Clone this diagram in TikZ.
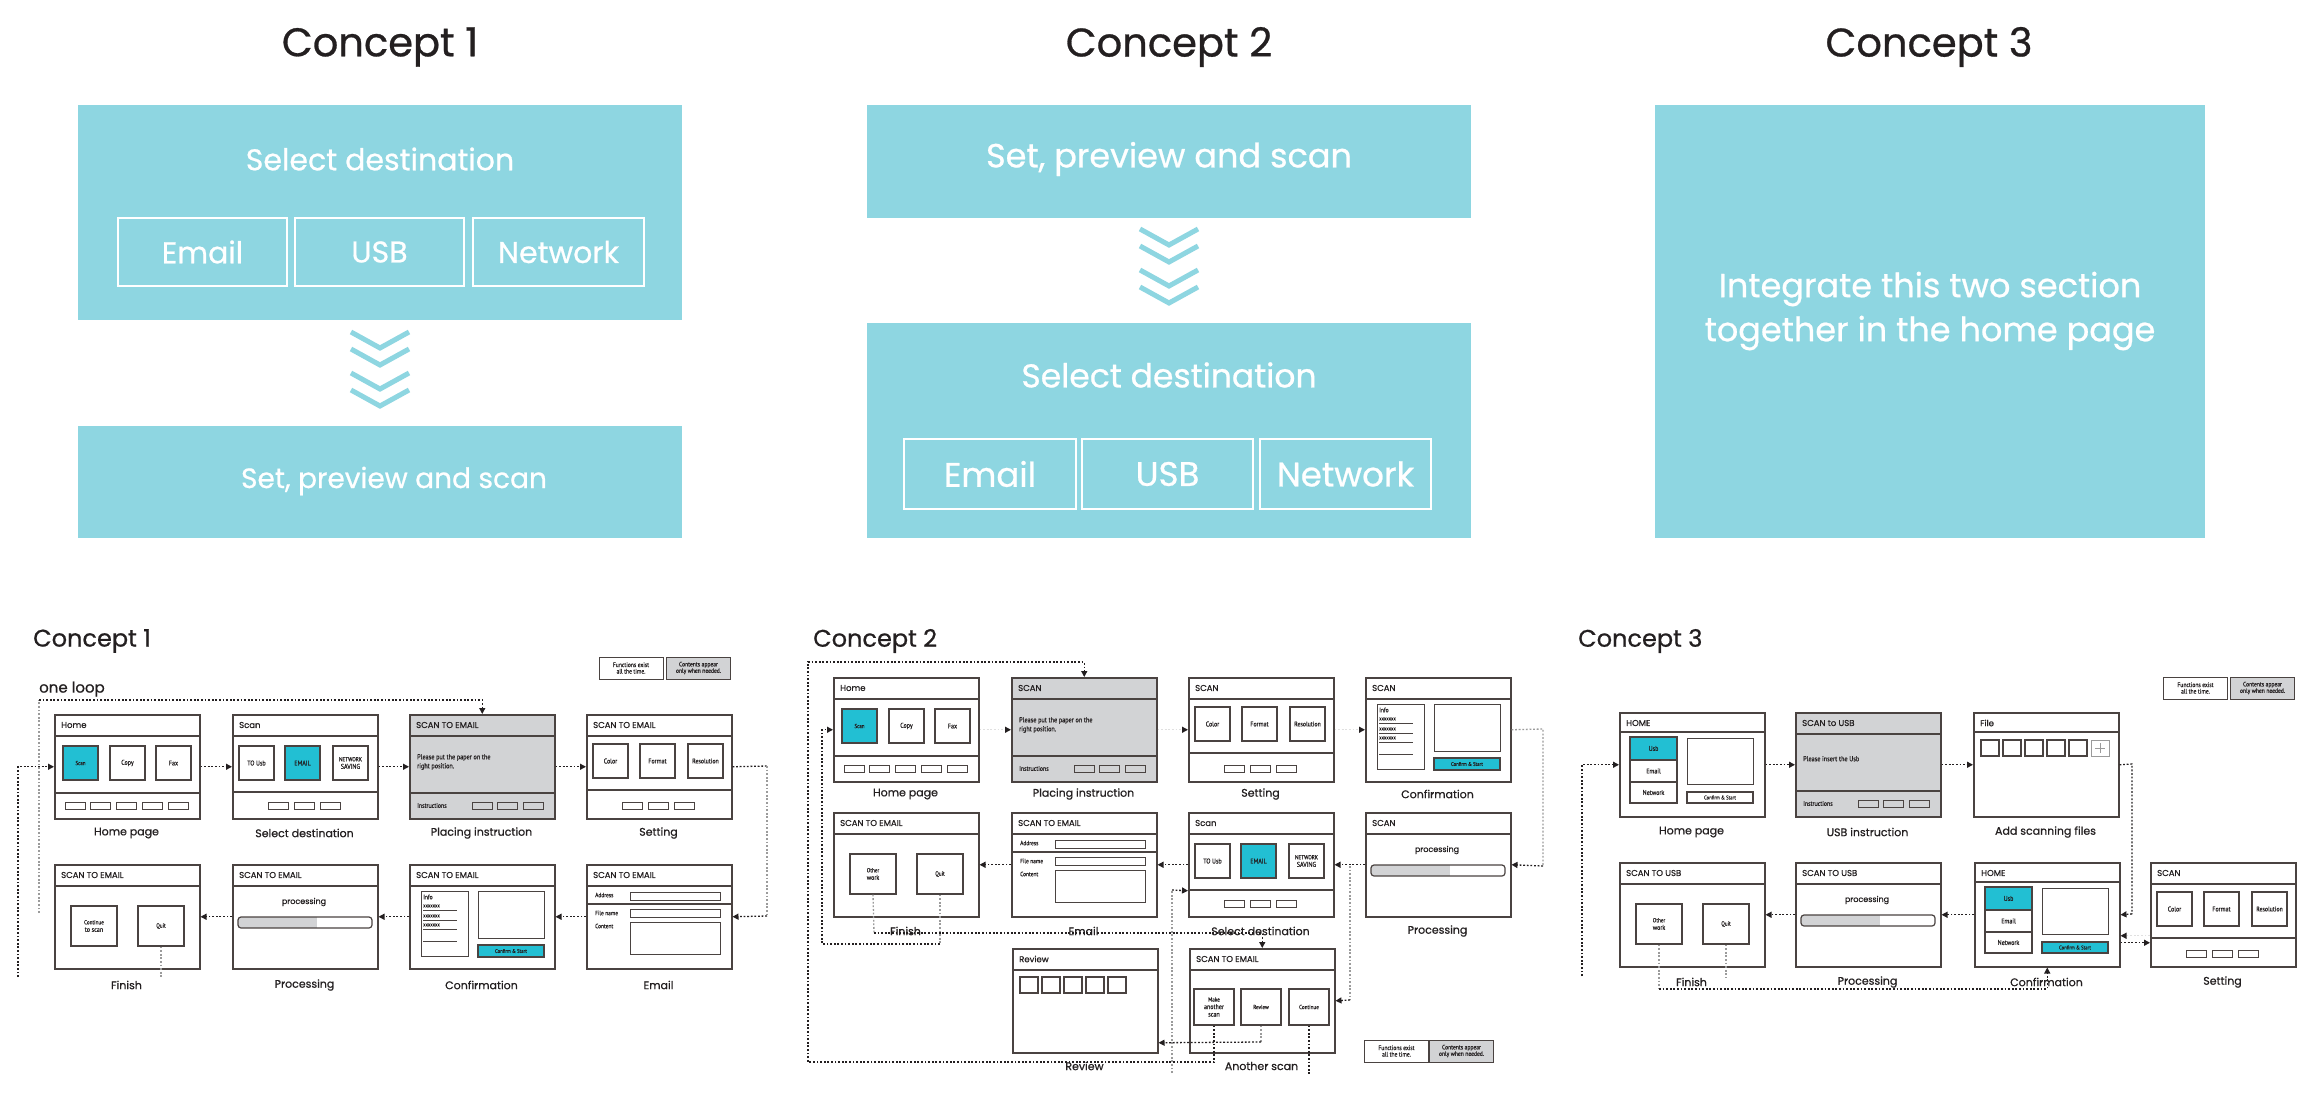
\documentclass[tikz,border=0pt]{standalone}
\usepackage{fontspec}
\setmainfont{Poppins}[FakeBold=0.7]
\newfontfamily\wf[FakeStretch=0.86,FakeBold=0.4]{PT Sans}
\usetikzlibrary{arrows.meta}
\definecolor{topblue}{HTML}{8ED6E1}
\definecolor{cyanb}{HTML}{22BFD3}
\definecolor{scrgray}{HTML}{D2D3D5}
\definecolor{frame}{HTML}{4A4341}
\definecolor{ink}{HTML}{231F20}
\definecolor{lgray}{HTML}{9B9B9B}

\tikzset{
  screen/.style={draw=frame,line width=1.5,fill=white,minimum width=145,minimum height=104,inner sep=0,anchor=north west},
  div/.style={draw=frame,line width=1.2},
  btnbox/.style={draw=frame,line width=1.2,inner sep=0,align=center,text=ink,font=\wf\fontsize{7}{7.5}\selectfont},
  sm/.style={draw=frame,line width=0.9},
  hd/.style={anchor=west,inner sep=0,text=ink,font=\fontsize{8.5}{9}\selectfont},
  wtxt/.style={anchor=west,inner sep=0,text=ink,font=\wf\fontsize{7}{8}\selectfont,align=left},
  lab/.style={inner sep=0,text=ink,font=\fontsize{11}{12}\selectfont},
  big/.style={fill=topblue,inner sep=0,anchor=north west},
  bigtxt/.style={inner sep=0,text=white,align=center,font=\fontsize{#1}{44}\selectfont},
  sub/.style={draw=white,line width=1.6,inner sep=0,text=white,font=\fontsize{#1}{36}\selectfont},
  chev/.style={draw=topblue,line width=5,line cap=butt,line join=miter},
  title/.style={inner sep=0,text=ink,font=\fontsize{40}{44}\selectfont},
  subtitle/.style={inner sep=0,anchor=west,text=ink,font=\fontsize{24}{26}\selectfont},
  leg/.style={draw=frame,line width=1,fill=white,minimum width=64,minimum height=22,inner sep=0,align=center,text=ink,font=\wf\fontsize{6.5}{6.5}\selectfont},
  dots/.style={line width=1.3,dash pattern=on 1.8pt off 1.8pt},
  line/.style={dots,draw=ink},
  gline/.style={dots,draw=lgray},
  conn/.style={line,-{Triangle[length=6pt,width=6pt]}},
  faint/.style={dots,draw=black!12,-{Triangle[length=6pt,width=6pt,color=ink]}},
}

% a button (name, x1, y1, x2, y2, fill, text)
\newcommand\wbtn[7]{\node[btnbox,fill=#6,minimum width={(#4)-(#2)},minimum height={(#5)-(#3)}] (#1) at ({((#2)+(#4))/2},{((#3)+(#5))/2}) {#7};}

% home screen with Scan / Copy / Fax
\newcommand\mkHome[3]{\begin{scope}[shift={(#2,#3)}]
  \node[screen] (#1) at (0,0) {};
  \node[hd] at (7,11) {Home};
  \draw[div] (0,22)--(145,22) (0,79)--(145,79);
  \wbtn{#1s}{9}{32}{44}{66}{cyanb}{\fontsize{5.8}{6}\selectfont Scan}
  \wbtn{#1c}{56}{32}{91}{66}{white}{Copy}
  \wbtn{#1f}{102}{32}{137}{66}{white}{Fax}
  \foreach \i in {0,...,4}{\draw[sm] ({11+25.75*\i},88) rectangle ++(20,7);}
\end{scope}}

% destination choice
\newcommand\mkDest[3]{\begin{scope}[shift={(#2,#3)}]
  \node[screen] (#1) at (0,0) {};
  \node[hd] at (7,11) {Scan};
  \draw[div] (0,22)--(145,22) (0,78)--(145,78);
  \wbtn{#1u}{7}{32}{42}{66}{white}{TO Usb}
  \wbtn{#1e}{53}{32}{88}{66}{cyanb}{EMAIL}
  \wbtn{#1n}{101}{32}{136}{66}{white}{\fontsize{6}{5.7}\selectfont NETWORK\\SAVING}
  \foreach \i in {0,1,2}{\draw[sm] ({36+26*\i},88) rectangle ++(20,7);}
\end{scope}}

% instruction screen (grey)
\newcommand\mkPlace[5]{\begin{scope}[shift={(#2,#3)}]
  \node[screen,fill=scrgray] (#1) at (0,0) {};
  \node[hd] at (7,11) {#4};
  \draw[div] (0,22)--(145,22) (0,79)--(145,79);
  \node[wtxt,anchor=north west,font=\wf\fontsize{7.2}{9}\selectfont] at (8,40) {#5};
  \node[wtxt,font=\wf\fontsize{6.8}{7}\selectfont] at (8,91.5) {Instructions};
  \foreach \i in {0,1,2}{\draw[sm] ({63+25.5*\i},88) rectangle ++(20,7);}
\end{scope}}

% settings
\newcommand\mkSet[4]{\begin{scope}[shift={(#2,#3)}]
  \node[screen] (#1) at (0,0) {};
  \node[hd] at (7,11) {#4};
  \draw[div] (0,22)--(145,22) (0,76)--(145,76);
  \wbtn{#1c}{7}{30}{42}{64}{white}{Color}
  \wbtn{#1f}{54}{30}{89}{64}{white}{Format}
  \wbtn{#1r}{102}{30}{137}{64}{white}{\fontsize{6.8}{7}\selectfont Resolution}
  \foreach \i in {0,1,2}{\draw[sm] ({36+26*\i},88) rectangle ++(20,7);}
\end{scope}}

% confirmation
\newcommand\mkConf[4]{\begin{scope}[shift={(#2,#3)}]
  \node[screen] (#1) at (0,0) {};
  \node[hd] at (7,11) {#4};
  \draw[div] (0,22)--(145,22);
  \draw[sm] (12,27) rectangle (59,92);
  \node[wtxt,font=\wf\fontsize{6.5}{7}\selectfont] at (14,33) {Info};
  \foreach \yy in {42,52,61}{\node[wtxt,font=\wf\fontsize{5.5}{6}\selectfont] at (14,\yy) {xxxxxxx}; \draw[sm] (14,\yy+4) -- (48,\yy+4);}
  \draw[sm] (14,77) -- (48,77);
  \draw[sm] (69,27) rectangle (135,74);
  \wbtn{#1b}{69}{81}{135}{93}{cyanb}{\fontsize{5.5}{6}\selectfont Confirm \& Start}
\end{scope}}

% e-mail form
\newcommand\mkMail[3]{\begin{scope}[shift={(#2,#3)}]
  \node[screen] (#1) at (0,0) {};
  \node[hd] at (7,11) {SCAN TO EMAIL};
  \draw[div] (0,22)--(145,22) (0,40)--(145,40);
  \node[wtxt,font=\wf\fontsize{6.3}{7}\selectfont] at (9,31) {Address};
  \draw[sm] (44,28) rectangle (134,36);
  \node[wtxt,font=\wf\fontsize{6.3}{7}\selectfont] at (9,49) {File name};
  \draw[sm] (44,45) rectangle (134,53);
  \node[wtxt,font=\wf\fontsize{6.3}{7}\selectfont] at (9,62) {Content};
  \draw[sm] (44,58) rectangle (134,90);
\end{scope}}

% finish
\newcommand\mkFin[5]{\begin{scope}[shift={(#2,#3)}]
  \node[screen] (#1) at (0,0) {};
  \node[hd] at (7,11) {#4};
  \draw[div] (0,22)--(145,22);
  \wbtn{#1a}{17}{42}{63}{82}{white}{\fontsize{6}{6.3}\selectfont #5}
  \wbtn{#1q}{84}{42}{130}{82}{white}{\fontsize{6}{6.3}\selectfont Quit}
\end{scope}}

% processing
\newcommand\mkProc[4]{\begin{scope}[shift={(#2,#3)}]
  \node[screen] (#1) at (0,0) {};
  \node[hd] at (7,11) {#4};
  \draw[div] (0,22)--(145,22);
  \node[inner sep=0,text=ink,font=\fontsize{8}{9}\selectfont] at (72,38) {processing};
  \begin{scope}\clip[rounded corners=3] (6,53) rectangle (140,64); \fill[scrgray] (6,53) rectangle (85,64);\end{scope}
  \draw[div,rounded corners=3] (6,53) rectangle (140,64);
\end{scope}}

% home with destination list
\newcommand\mkList[4]{\begin{scope}[shift={(#2,#3)}]
  \node[screen] (#1) at (0,0) {};
  \node[hd] at (7,11) {HOME};
  \draw[div] (0,20)--(145,20);
  \wbtn{#1u}{11}{25}{58}{48}{cyanb}{Usb}
  \wbtn{#1e}{11}{48}{58}{70}{white}{Email}
  \wbtn{#1n}{11}{70}{58}{91}{white}{Network}
  \draw[sm] (68,26) rectangle (134,72);
  \wbtn{#1b}{68}{80}{134}{91}{#4}{\fontsize{5.5}{6}\selectfont Confirm \& Start}
\end{scope}}

% file list
\newcommand\mkFile[3]{\begin{scope}[shift={(#2,#3)}]
  \node[screen] (#1) at (0,0) {};
  \node[hd] at (7,11) {File};
  \draw[div] (0,20)--(145,20);
  \foreach \i in {0,...,4}{\draw[div] ({8+22*\i},28) rectangle ++(18,16);}
  \draw[draw=lgray,line width=1] (118,28) rectangle (136,44);
  \draw[lgray,line width=0.8] (122,36)--(132,36) (127,31)--(127,41);
\end{scope}}

% review
\newcommand\mkReview[3]{\begin{scope}[shift={(#2,#3)}]
  \node[screen] (#1) at (0,0) {};
  \node[hd] at (7,11) {Review};
  \draw[div] (0,22)--(145,22);
  \foreach \i in {0,...,4}{\draw[div] ({8+22*\i},29) rectangle ++(18,16);}
\end{scope}}

% another scan
\newcommand\mkAgain[3]{\begin{scope}[shift={(#2,#3)}]
  \node[screen] (#1) at (0,0) {};
  \node[hd] at (7,11) {SCAN TO EMAIL};
  \draw[div] (0,22)--(145,22);
  \wbtn{#1a}{5}{41}{45}{77}{white}{\fontsize{6}{6.5}\selectfont Make\\another\\scan}
  \wbtn{#1r}{52}{41}{92}{77}{white}{\fontsize{6}{6.3}\selectfont Review}
  \wbtn{#1c}{100}{41}{140}{77}{white}{\fontsize{6}{6.3}\selectfont Continue}
\end{scope}}

\begin{document}
\begin{tikzpicture}[x=1pt,y=-1pt]
\useasboundingbox (0,0) rectangle (2311,1095);
\fill[white] (0,0) rectangle (2311,1095);

% ---------------- overview blocks ----------------
\node[title] (h1) at (380,47) {Concept 1};
\node[title] (h2) at (1169,47) {Concept 2};
\node[title] (h3) at (1929,47) {Concept 3};

\node[big,minimum width=604,minimum height=215] (t1a) at (78,105) {};
\node[bigtxt=30] (t1at) at (380,159) {Select destination};
\node[sub=30,minimum width=169,minimum height=68] (t1e) at (202.5,252) {Email};
\node[sub=30,minimum width=169,minimum height=68] (t1u) at (379.5,252) {USB};
\node[sub=30,minimum width=171,minimum height=68] (t1n) at (558.5,252) {Network};
\foreach \d in {0,17,41,58}{\draw[chev] (351,332+\d) -- (380,348+\d) -- (409,332+\d);}
\node[big,minimum width=604,minimum height=112] (t1b) at (78,426) {};
\node[bigtxt=28] (t1bt) at (394,481) {Set, preview and scan};

\node[big,minimum width=604,minimum height=113] (t2a) at (867,105) {};
\node[bigtxt=33.5] (t2at) at (1169,159) {Set, preview and scan};
\foreach \d in {0,17,41,58}{\draw[chev] (1140,229+\d) -- (1169,245+\d) -- (1198,229+\d);}
\node[big,minimum width=604,minimum height=215] (t2b) at (867,323) {};
\node[bigtxt=33] (t2bt) at (1169,375) {Select destination};
\node[sub=34,minimum width=172,minimum height=70] (t2e) at (990,474) {Email};
\node[sub=34,minimum width=171,minimum height=70] (t2u) at (1167.5,474) {USB};
\node[sub=34,minimum width=171,minimum height=70] (t2n) at (1345.5,474) {Network};

\node[big,minimum width=550,minimum height=433] (t3) at (1655,105) {};
\node[bigtxt=33.5] (t3t) at (1930,311) {Integrate this two section\\together in the home page};

% ---------------- concept 1 flow ----------------
\node[subtitle] (s1) at (33,641) {Concept 1};
\node[inner sep=0,anchor=west,text=ink,font=\fontsize{15}{16}\selectfont] (loop1) at (39,689) {one loop};
\node[leg] (lg1a) at (631,668) {Functions exist\\all the time.};
\node[leg,fill=scrgray] (lg1b) at (698.5,668) {Contents appear\\only when needed.};

\mkHome{c1home}{54}{714}
\mkDest{c1dest}{232}{714}
\mkPlace{c1place}{409}{714}{SCAN TO EMAIL}{Please put the paper on the\\right position.}
\mkSet{c1set}{586}{714}{SCAN TO EMAIL}
\mkFin{c1fin}{54}{864}{SCAN TO EMAIL}{Continue\\to scan}
\mkProc{c1proc}{232}{864}{SCAN TO EMAIL}
\mkConf{c1conf}{409}{864}{SCAN TO EMAIL}
\mkMail{c1mail}{586}{864}

\node[lab] (l1a) at (126.5,833) {Home page};
\node[lab] (l1b) at (304.5,833) {Select destination};
\node[lab] (l1c) at (481.5,833) {Placing instruction};
\node[lab] (l1d) at (658.5,833) {Setting};
\node[lab] (l1e) at (126.5,985) {Finish};
\node[lab] (l1f) at (304.5,985) {Processing};
\node[lab] (l1g) at (481.5,985) {Confirmation};
\node[lab] (l1h) at (658.5,985) {Email};

\coordinate (c1in) at (18,977);
\coordinate (c1lpA) at (39,913);
\coordinate (c1lpB) at (39,700);
\coordinate (c1rA) at (767,766);
\coordinate (c1rB) at (767,916);
\draw[conn] (c1in) |- (c1home.west);
\draw[gline] (c1lpA) -- (c1lpB);
\draw[conn] (c1lpB) -| (c1place.north);
\draw[conn] (c1home.east) -- (c1dest.west);
\draw[conn] (c1dest.east) -- (c1place.west);
\draw[conn] (c1place.east) -- (c1set.west);
\draw[line] (c1set.east) -- (c1rA);
\draw[gline] (c1rA) -- (c1rB);
\draw[conn] (c1rB) -- (c1mail.east);
\draw[conn] (c1mail.west) -- (c1conf.east);
\draw[conn] (c1conf.west) -- (c1proc.east);
\draw[conn] (c1proc.west) -- (c1fin.east);
\draw[gline] (c1finq.south) -- ++(0,32);

% ---------------- concept 2 flow ----------------
\node[subtitle] (s2) at (813,641) {Concept 2};
\node[leg] (lg2a) at (1396.5,1051) {Functions exist\\all the time.};
\node[leg,fill=scrgray] (lg2b) at (1461.5,1051) {Contents appear\\only when needed.};

\mkHome{c2home}{833}{677}
\mkPlace{c2place}{1011}{677}{SCAN}{Please put the paper on the\\right position.}
\mkSet{c2set}{1188}{677}{SCAN}
\mkConf{c2conf}{1365}{677}{SCAN}
\mkFin{c2fin}{833}{812}{SCAN TO EMAIL}{Other\\work}
\mkMail{c2mail}{1011}{812}
\mkDest{c2dest}{1188}{812}
\mkProc{c2proc}{1365}{812}{SCAN}
\mkReview{c2rev}{1012}{948}
\mkAgain{c2again}{1189}{948}

\node[lab] (l2a) at (905.5,794) {Home page};
\node[lab] (l2b) at (1083.5,794) {Placing instruction};
\node[lab] (l2c) at (1260.5,794) {Setting};
\node[lab] (l2d) at (1437.5,794) {Confirmation};
\node[lab] (l2e) at (905.5,931) {Finish};
\node[lab] (l2f) at (1083.5,931) {Email};
\node[lab] (l2g) at (1260.5,931) {Select destination};
\node[lab] (l2h) at (1437.5,931) {Processing};
\node[lab] (l2i) at (1084.5,1066) {Review};
\node[lab] (l2j) at (1261.5,1066) {Another scan};

\coordinate (c2lpA) at (808,1062);
\coordinate (c2lpB) at (808,662);
\coordinate (c2hin) at (822,944);
\coordinate (c2rA) at (1543,729);
\coordinate (c2rB) at (1543,866);
\coordinate (c2br) at (1350,866);
\coordinate (c2brB) at (1350,1000);
\coordinate (c2owA) at (874,933);
\coordinate (c2ctA) at (1172,1073);
\coordinate (c2ctB) at (1172,890);
\coordinate (c2rvA) at (1261,1042);
\draw[conn] (c2againa.south) |- (c2lpA) -- (c2lpB) -| (c2place.north);
\draw[gline] (c2finq.south) -- (c2finq.south |- c2hin);
\draw[conn] (c2finq.south |- c2hin) -- (c2hin) |- (c2home.west);
\draw[faint] (c2home.east) -- (c2place.west);
\draw[faint] (c2place.east) -- (c2set.west);
\draw[faint] (c2set.east) -- (c2conf.west);
\draw[gline] (c2conf.east) -- (c2rA) -- (c2rB);
\draw[conn] (c2rB) -- (c2proc.east);
\draw[conn] (c2proc.west) -- (c2dest.east);
\draw[gline] (c2br) -- (c2brB);
\draw[conn] (c2brB) -- (c2again.east);
\draw[conn] (c2dest.west) -- (c2mail.east);
\draw[conn] (c2mail.west) -- (c2fin.east);
\draw[gline] (c2fina.south) -- (c2owA);
\draw[conn] (c2owA) -| (c2again.north);
\draw[gline] (c2ctA) -- (c2ctB);
\draw[conn] (c2ctB) -- ([yshift=-26pt]c2dest.west);
\draw[gline] (c2againr.south) -- (c2rvA);
\draw[conn] (c2rvA) -- ([yshift=-42pt]c2rev.east);
\draw[line] (c2againc.south) -- ++(0,48);

% ---------------- concept 3 flow ----------------
\node[subtitle] (s3) at (1578,641) {Concept 3};
\node[leg] (lg3a) at (2195.5,688) {Functions exist\\all the time.};
\node[leg,fill=scrgray] (lg3b) at (2262.5,688) {Contents appear\\only when needed.};

\mkList{c3home}{1619}{712}{white}
\mkPlace{c3usb}{1795}{712}{SCAN to USB}{\\Please insert the Usb}
\mkFile{c3file}{1973}{712}
\mkFin{c3fin}{1619}{862}{SCAN TO USB}{Other\\work}
\mkProc{c3proc}{1795}{862}{SCAN TO USB}
\mkList{c3conf}{1974}{862}{cyanb}
\mkSet{c3set}{2150}{862}{SCAN}

\node[lab] (l3a) at (1691.5,832) {Home page};
\node[lab] (l3b) at (1867.5,832) {USB instruction};
\node[lab] (l3c) at (2045.5,832) {Add scanning files};
\node[lab] (l3d) at (1691.5,982) {Finish};
\node[lab] (l3e) at (1867.5,982) {Processing};
\node[lab] (l3f) at (2046.5,982) {Confirmation};
\node[lab] (l3g) at (2222.5,982) {Setting};

\coordinate (c3in) at (1582,976);
\coordinate (c3rA) at (2132,764);
\coordinate (c3rB) at (2132,914);
\coordinate (c3owA) at (1659,989);
\draw[conn] (c3in) |- (c3home.west);
\draw[conn] (c3home.east) -- (c3usb.west);
\draw[conn] (c3usb.east) -- (c3file.west);
\draw[line] (c3file.east) -- (c3rA) -- (c3rB);
\draw[conn] (c3rB) -- (c3conf.east);
\draw[conn] (c3conf.west) -- (c3proc.east);
\draw[conn] (c3proc.west) -- (c3fin.east);
\draw[conn] ([yshift=-28pt]c3conf.east) -- ([yshift=-28pt]c3set.west);
\draw[faint] ([yshift=-21pt]c3set.west) -- ([yshift=-21pt]c3conf.east);
\draw[gline] (c3fina.south) -- (c3owA);
\draw[conn] (c3owA) -| (c3conf.south);
\draw[gline] (c3finq.south) -- ++(0,33);
\end{tikzpicture}
\end{document}
